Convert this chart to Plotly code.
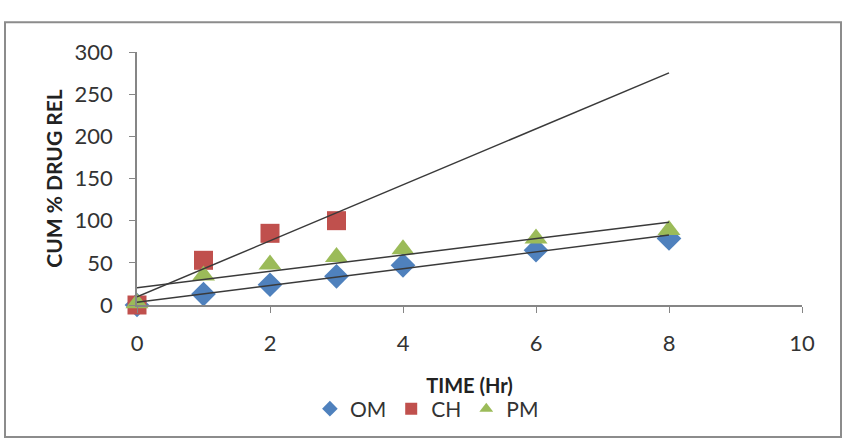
import numpy as np
import plotly.graph_objects as go

# Data
om_x = [0, 1, 2, 3, 4, 6, 8]
om_y = [0, 13, 24, 34, 47, 65, 79]
ch_x = [0, 1, 2, 3]
ch_y = [0, 53, 85, 100]
pm_x = [0, 1, 2, 3, 4, 6, 8]
pm_y = [2, 35, 48, 57, 66, 79, 89]
trend_x = [0, 8]

series = [
    ("OM", om_x, om_y, "diamond", "#4F81BD", 19),
    ("CH", ch_x, ch_y, "square", "#C0504D", 19),
    ("PM", pm_x, pm_y, "triangle-up", "#9BBB59", 20),
]

fig = go.Figure()
for name, xs, ys, sym, col, sz in series:
    fig.add_trace(go.Scatter(
        x=xs, y=ys, mode="markers", name=name, cliponaxis=False,
        marker=dict(symbol=sym, color=col, size=sz, line=dict(width=0)),
    ))

for name, xs, ys, sym, col, sz in series:
    m, b = np.polyfit(xs, ys, 1)
    tx = np.array(trend_x, dtype=float)
    fig.add_trace(go.Scatter(
        x=tx, y=m * tx + b, mode="lines", showlegend=False,
        line=dict(color="#3a3a3a", width=1.5), hoverinfo="skip",
    ))

axis_common = dict(
    showgrid=False, zeroline=False, showline=True, linecolor="#868686",
    linewidth=1.5, ticks="outside", ticklen=6, tickcolor="#868686",
    automargin=False,
    tickfont=dict(family="Lato", size=22, color="#333333"),
)

fig.update_layout(
    width=854, height=441,
    margin=dict(l=137, r=52, t=52, b=134),
    paper_bgcolor="white", plot_bgcolor="white",
    showlegend=True,
    legend=dict(orientation="h", x=0.26, xanchor="left", y=-0.33, yanchor="top",
                font=dict(family="Lato", size=21, color="#333333"),
                itemwidth=30, tracegroupgap=0, itemsizing="constant"),
    xaxis=dict(range=[0, 10], dtick=2, tick0=0, ticklabelstandoff=12,
               title=dict(text="<b>TIME (Hr)</b>", standoff=24,
                          font=dict(family="Lato", size=20, color="#222222")),
               **axis_common),
    yaxis=dict(range=[0, 300], dtick=50, tick0=0, ticklabelstandoff=12,
               title=dict(text="<b>CUM % DRUG REL</b>", standoff=6,
                          font=dict(family="Lato", size=21, color="#222222")),
               **axis_common),
    shapes=[dict(type="rect", xref="paper", yref="paper",
                 x0=(5 - 137) / 665, x1=(841 - 137) / 665,
                 y0=(307 - 440) / 255, y1=(307 - 22) / 255,
                 line=dict(color="#8c8c8c", width=2), layer="below")],
)

fig.write_html("out.html")
